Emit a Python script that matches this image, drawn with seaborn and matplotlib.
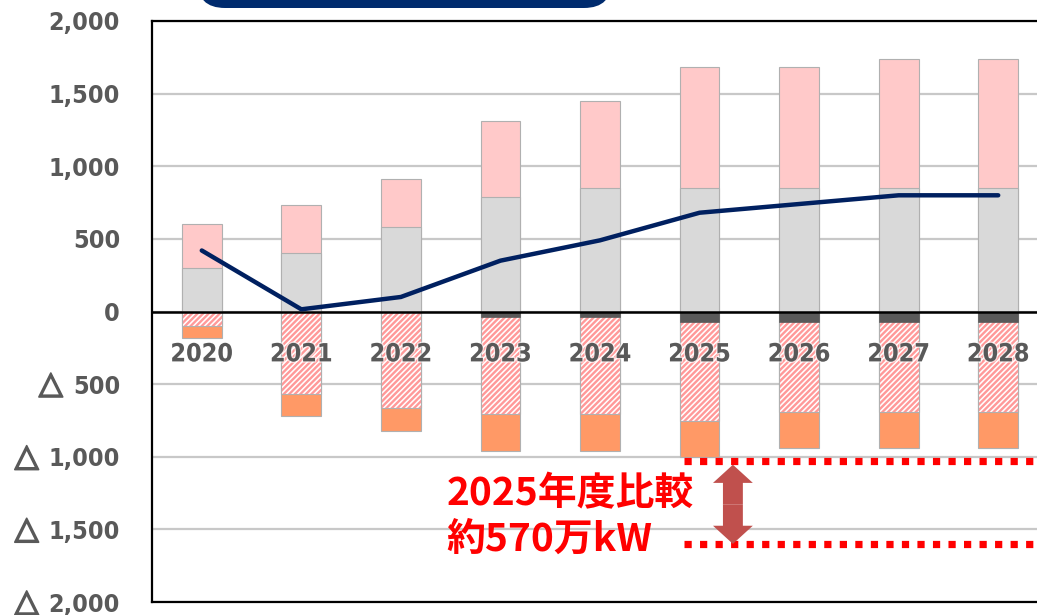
import numpy as np
import pandas as pd
import matplotlib
matplotlib.use("Agg")
import matplotlib.pyplot as plt
import matplotlib.patches as mpatches
import matplotlib.patheffects as pe
from matplotlib.transforms import IdentityTransform
import seaborn as sns

# ---------------- data ----------------
years = ["2020", "2021", "2022", "2023", "2024", "2025", "2026", "2027", "2028"]
base_pos = [300, 400, 580, 790, 850, 850, 850, 850, 850]      # grey segment
add_pos = [300, 330, 330, 520, 600, 830, 830, 890, 890]       # pink segment
dark_neg = [0, 0, 0, 40, 40, 75, 75, 75, 75]                  # dark grey (negative)
hatch_neg = [100, 570, 665, 665, 665, 680, 615, 615, 615]     # hatched (negative)
orange_neg = [85, 150, 155, 255, 255, 245, 250, 250, 250]     # orange (negative)
line_vals = [420, 15, 100, 350, 490, 680, 740, 800, 800]      # navy line
y_ticks = [2000, 1500, 1000, 500, 0, -500, -1000, -1500, -2000]
gap_top = -1030
gap_bottom = -1600
note_lines = ["2025年度比較", "約570万kW"]

# ---------------- style ----------------
sns.set_style("white")
plt.rcParams["font.family"] = ["DejaVu Sans", "Noto Sans CJK JP"]
plt.rcParams["hatch.linewidth"] = 1.7

PINK = "#FFC9C9"
GREY = "#D9D9D9"
DARK = "#595959"
ORANGE = "#FF9966"
HATCH = "#FF9999"
EDGE = "#B0B0B0"
NAVY = "#002060"
TXT = "#595959"

df = pd.DataFrame({"year": years, "base": base_pos, "add": add_pos,
                   "dark": dark_neg, "hatch": hatch_neg, "orange": orange_neg,
                   "line": line_vals})
df["pos_total"] = df["base"] + df["add"]
df["neg_dark"] = -df["dark"]
df["neg_hatch"] = -(df["dark"] + df["hatch"])
df["neg_total"] = -(df["dark"] + df["hatch"] + df["orange"])

W, H = 1037, 615
fig = plt.figure(figsize=(W / 100, H / 100), dpi=100)
ax = fig.add_axes([152 / W, 13 / H, 896 / W, 581 / H])

bw = 0.4
common = dict(data=df, x="year", ax=ax, width=bw, saturation=1, errorbar=None)
sns.barplot(y="pos_total", color=PINK, edgecolor=EDGE, linewidth=0.8, **common)
sns.barplot(y="base", color=GREY, edgecolor=EDGE, linewidth=0.8, **common)
sns.barplot(y="neg_total", color=ORANGE, edgecolor=EDGE, linewidth=0.8, **common)
sns.barplot(y="neg_hatch", color="white", edgecolor=HATCH, linewidth=0, hatch="//////", **common)
sns.barplot(y="neg_hatch", color=EDGE, fill=False, linewidth=0.8, **common)
sns.barplot(y="neg_dark", color=DARK, edgecolor=DARK, linewidth=0.5, **common)

xpos = np.arange(len(years))
sns.lineplot(x=xpos, y=df["line"].values, color=NAVY, linewidth=3.2, ax=ax, zorder=6)

ax.axhline(0, color="black", lw=1.8, zorder=5)

lab_font = dict(family="DejaVu Sans", fontstretch="condensed", fontweight="bold",
                fontsize=18, color=TXT)

ax.set_xlim(-0.5, len(years) - 0.5)
ax.set_ylim(-2000, 2000)
ax.set_yticks(y_ticks)
ax.set_yticklabels([f"{abs(v):,}" for v in y_ticks], **lab_font)
ax.tick_params(axis="y", length=0, pad=23)
ax.set_xticks([])
ax.set_xlabel("")
ax.set_ylabel("")
ax.set_axisbelow(True)
ax.yaxis.grid(True, color="#C8C8C8", lw=1.6)
for s in ax.spines.values():
    s.set_color("black")
    s.set_linewidth(1.6)

# triangle (negative) markers in front of negative tick labels
fig.canvas.draw()
for v, lbl in zip(y_ticks, ax.get_yticklabels()):
    if v < 0:
        ax.annotate("△", xy=(0, 0.5), xycoords=lbl, xytext=(-10, 2),
                    textcoords="offset pixels", ha="right", va="center",
                    fontsize=22.5, fontweight="bold", color=TXT, family="DejaVu Sans",
                    annotation_clip=False,
                    path_effects=[pe.withStroke(linewidth=1.2, foreground=TXT)])

# category labels inside the plot
for i, yr in enumerate(years):
    ax.text(i, -295, yr, ha="center", va="center", zorder=7,
            path_effects=[pe.withStroke(linewidth=2, foreground="white", alpha=0.6)],
            **lab_font)

# comparison annotation
i25 = years.index("2025")
ax.hlines([gap_top, gap_bottom], i25 - 0.16, len(years) - 0.5, colors="#FF0000",
          linewidth=5.2, linestyles=(0, (1.0, 1.15)), zorder=6)
top_tip = gap_top - 25
mid = (top_tip + gap_bottom) / 2
half = (top_tip - gap_bottom) / 2
for d in (half, -half):
    ax.add_patch(mpatches.FancyArrow(i25 + 0.335, mid, 0, d, width=0.2, head_width=0.4,
                                     head_length=125, length_includes_head=True,
                                     color="#C0504D", lw=0, zorder=7))
cjk = ["Noto Sans CJK JP", "DejaVu Sans"]
ax.text(2.46, -1258, note_lines[0], ha="left", va="center", fontsize=28,
        fontweight="bold", color="#FF0000", family=cjk)
ax.text(2.46, -1567, note_lines[1], ha="left", va="center", fontsize=28,
        fontweight="bold", color="#FF0000", family=cjk)

# cut-off title box at top
box = mpatches.FancyBboxPatch((197, H - 8), 415, 60,
                              boxstyle="round,pad=0,rounding_size=28",
                              transform=IdentityTransform(), facecolor="#002B6E",
                              edgecolor="none", clip_on=False)
fig.add_artist(box)

fig.savefig("out.png", dpi=100)
